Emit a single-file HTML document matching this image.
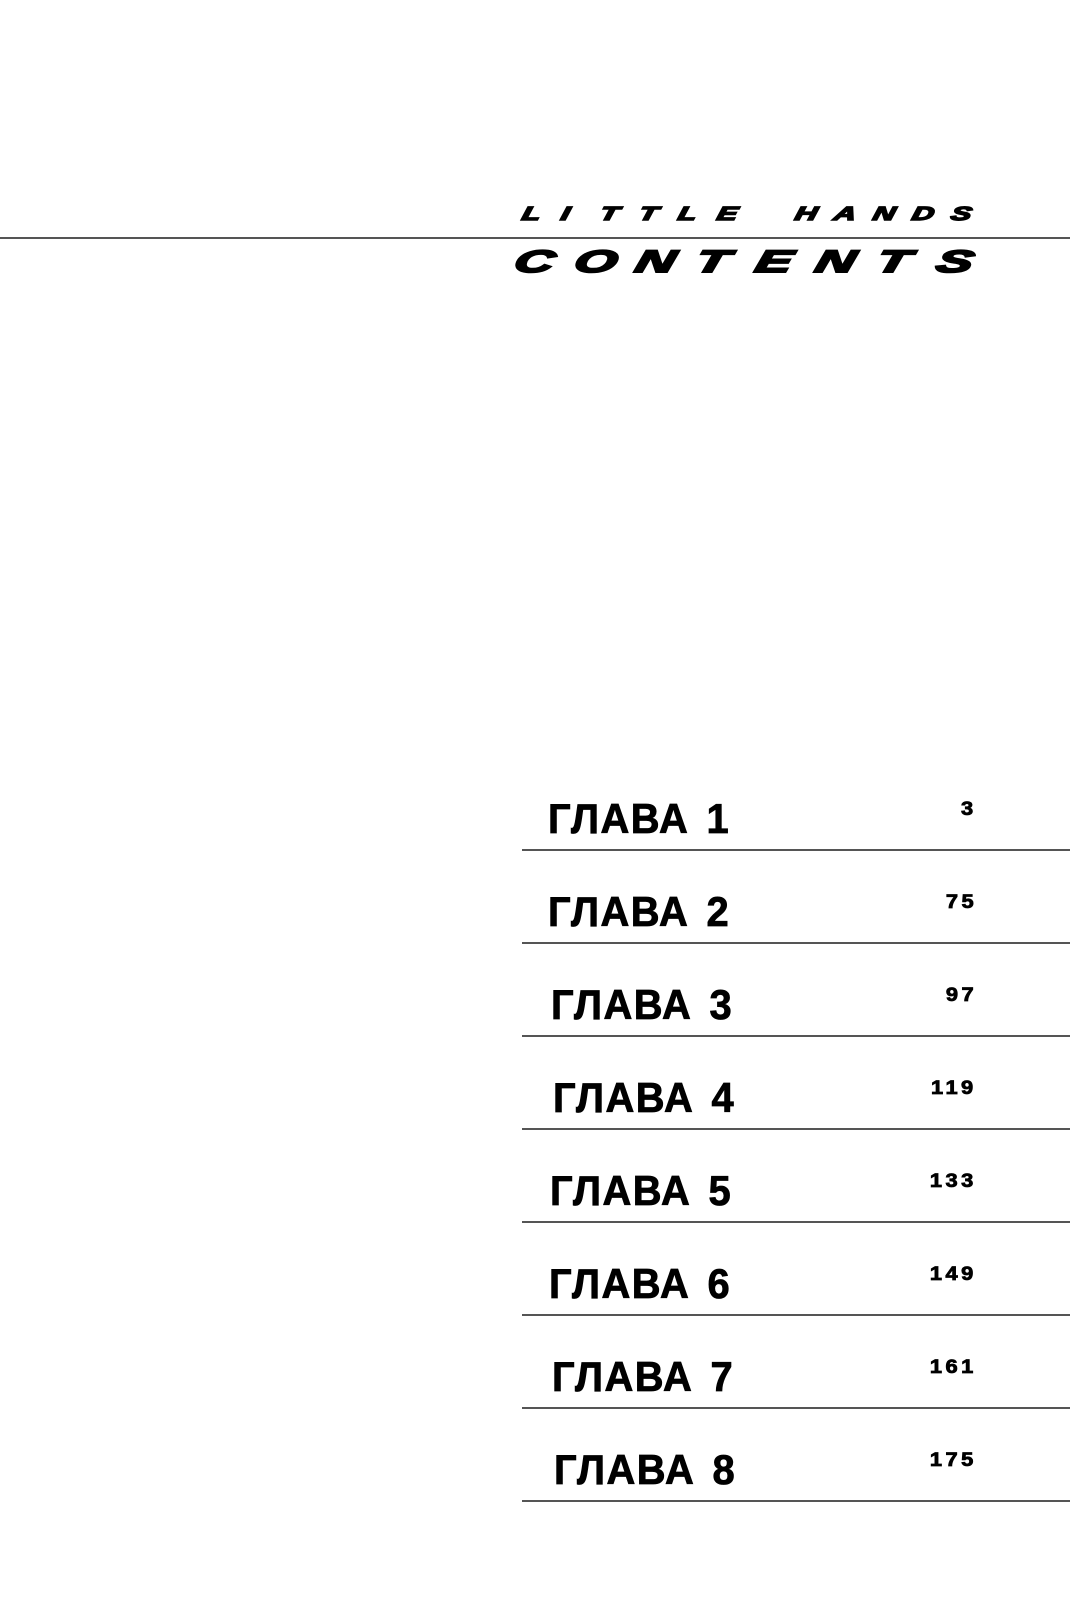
<!DOCTYPE html>
<html><head><meta charset="utf-8"><style>
html,body{margin:0;padding:0;background:#fff;}
body{width:1070px;height:1600px;position:relative;overflow:hidden;font-family:"Liberation Sans",sans-serif;color:#000;}
.hl{position:absolute;left:0;top:237px;width:1070px;height:2px;background:#555;}
.t{position:absolute;font-weight:bold;font-style:italic;white-space:nowrap;-webkit-text-stroke:1.5px #000;}
.t span{display:inline-block;text-align:left;transform:scaleX(1.6) skewX(-8deg);transform-origin:left center;}
.lh{left:522px;top:205px;font-size:19px;line-height:20px;}
.lh span{width:39px;}
.ct{left:515px;top:246px;font-size:31px;line-height:32px;-webkit-text-stroke:2px #000;}
.ct span{width:60.3px;transform:scaleX(1.75) skewX(-8deg);}
.row{position:absolute;left:522px;width:548px;height:2px;background:#555;}
.g{position:absolute;font-size:42px;font-weight:bold;line-height:42px;white-space:nowrap;letter-spacing:1.5px;word-spacing:5px;transform:scaleX(0.95);transform-origin:left center;-webkit-text-stroke:0.8px #000;}
.n{position:absolute;right:93px;font-size:19px;font-weight:bold;line-height:19px;letter-spacing:3px;transform:scaleX(1.15);transform-origin:right center;-webkit-text-stroke:0.8px #000;}
</style></head><body>
<div class="t lh"><span>L</span><span>I</span><span>T</span><span>T</span><span>L</span><span>E</span><span> </span><span>H</span><span>A</span><span>N</span><span>D</span><span>S</span></div>
<div class="hl"></div>
<div class="t ct"><span>C</span><span>O</span><span>N</span><span>T</span><span>E</span><span>N</span><span>T</span><span>S</span></div>

<div class="g" style="left:548px;top:798px">ГЛАВА 1</div><div class="n" style="top:800px">3</div><div class="row" style="top:849px"></div>
<div class="g" style="left:548px;top:891px">ГЛАВА 2</div><div class="n" style="top:893px">75</div><div class="row" style="top:942px"></div>
<div class="g" style="left:551px;top:984px">ГЛАВА 3</div><div class="n" style="top:986px">97</div><div class="row" style="top:1035px"></div>
<div class="g" style="left:553px;top:1077px">ГЛАВА 4</div><div class="n" style="top:1079px">119</div><div class="row" style="top:1128px"></div>
<div class="g" style="left:550px;top:1170px">ГЛАВА 5</div><div class="n" style="top:1172px">133</div><div class="row" style="top:1221px"></div>
<div class="g" style="left:549px;top:1263px">ГЛАВА 6</div><div class="n" style="top:1265px">149</div><div class="row" style="top:1314px"></div>
<div class="g" style="left:552px;top:1356px">ГЛАВА 7</div><div class="n" style="top:1358px">161</div><div class="row" style="top:1407px"></div>
<div class="g" style="left:554px;top:1449px">ГЛАВА 8</div><div class="n" style="top:1451px">175</div><div class="row" style="top:1500px"></div>
</body></html>
